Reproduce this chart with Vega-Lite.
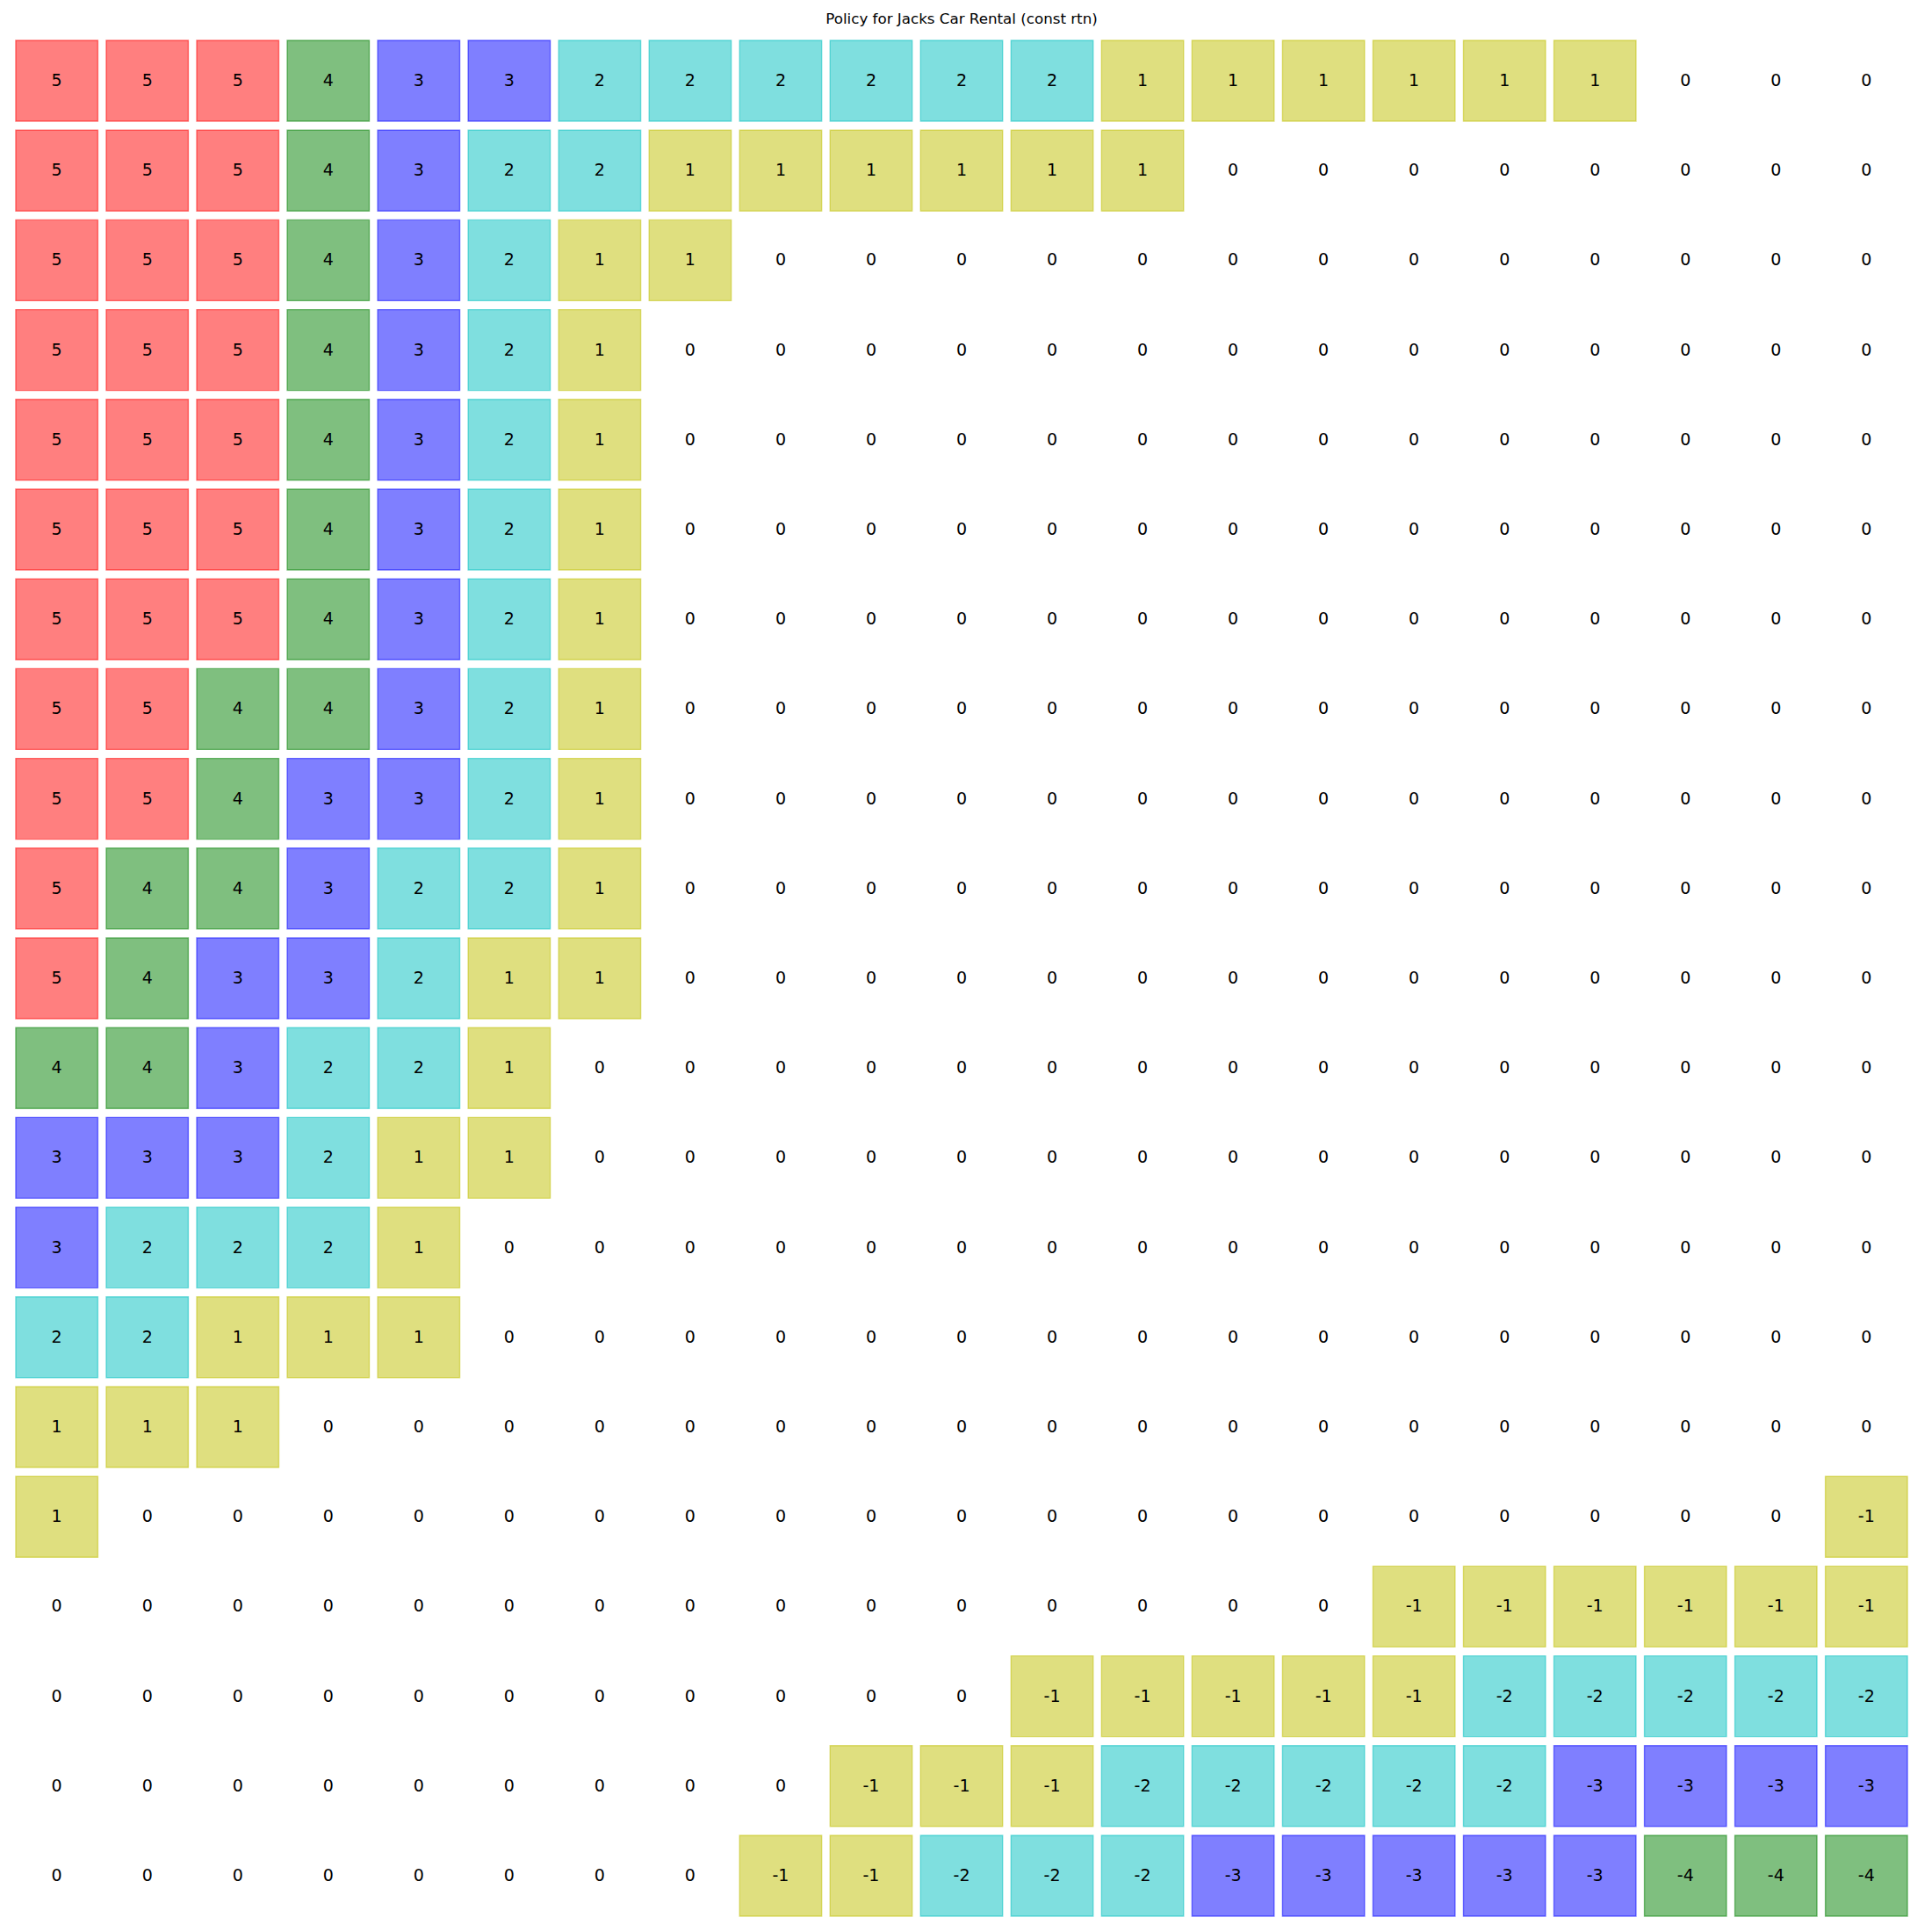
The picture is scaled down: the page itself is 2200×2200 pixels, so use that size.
{
"$schema":"https://vega.github.io/schema/vega-lite/v6.json",
"autosize":{"type":"none"},
"padding":{"left":13,"top":41,"right":23,"bottom":13},
"width":2164,"height":2146,
"background":"white",
"config":{"view":{"stroke":null}},
"title":{"text":"Policy for Jacks Car Rental (const rtn)","font":"DejaVu Sans","fontSize":16.7,"fontWeight":"normal","color":"black","anchor":"middle","offset":10},
"data":{"values":[
{"r":0,"c":0,"v":5},{"r":0,"c":1,"v":5},{"r":0,"c":2,"v":5},{"r":0,"c":3,"v":4},{"r":0,"c":4,"v":3},{"r":0,"c":5,"v":3},{"r":0,"c":6,"v":2},{"r":0,"c":7,"v":2},{"r":0,"c":8,"v":2},{"r":0,"c":9,"v":2},{"r":0,"c":10,"v":2},{"r":0,"c":11,"v":2},{"r":0,"c":12,"v":1},{"r":0,"c":13,"v":1},{"r":0,"c":14,"v":1},{"r":0,"c":15,"v":1},{"r":0,"c":16,"v":1},{"r":0,"c":17,"v":1},{"r":0,"c":18,"v":0},{"r":0,"c":19,"v":0},{"r":0,"c":20,"v":0},
{"r":1,"c":0,"v":5},{"r":1,"c":1,"v":5},{"r":1,"c":2,"v":5},{"r":1,"c":3,"v":4},{"r":1,"c":4,"v":3},{"r":1,"c":5,"v":2},{"r":1,"c":6,"v":2},{"r":1,"c":7,"v":1},{"r":1,"c":8,"v":1},{"r":1,"c":9,"v":1},{"r":1,"c":10,"v":1},{"r":1,"c":11,"v":1},{"r":1,"c":12,"v":1},{"r":1,"c":13,"v":0},{"r":1,"c":14,"v":0},{"r":1,"c":15,"v":0},{"r":1,"c":16,"v":0},{"r":1,"c":17,"v":0},{"r":1,"c":18,"v":0},{"r":1,"c":19,"v":0},{"r":1,"c":20,"v":0},
{"r":2,"c":0,"v":5},{"r":2,"c":1,"v":5},{"r":2,"c":2,"v":5},{"r":2,"c":3,"v":4},{"r":2,"c":4,"v":3},{"r":2,"c":5,"v":2},{"r":2,"c":6,"v":1},{"r":2,"c":7,"v":1},{"r":2,"c":8,"v":0},{"r":2,"c":9,"v":0},{"r":2,"c":10,"v":0},{"r":2,"c":11,"v":0},{"r":2,"c":12,"v":0},{"r":2,"c":13,"v":0},{"r":2,"c":14,"v":0},{"r":2,"c":15,"v":0},{"r":2,"c":16,"v":0},{"r":2,"c":17,"v":0},{"r":2,"c":18,"v":0},{"r":2,"c":19,"v":0},{"r":2,"c":20,"v":0},
{"r":3,"c":0,"v":5},{"r":3,"c":1,"v":5},{"r":3,"c":2,"v":5},{"r":3,"c":3,"v":4},{"r":3,"c":4,"v":3},{"r":3,"c":5,"v":2},{"r":3,"c":6,"v":1},{"r":3,"c":7,"v":0},{"r":3,"c":8,"v":0},{"r":3,"c":9,"v":0},{"r":3,"c":10,"v":0},{"r":3,"c":11,"v":0},{"r":3,"c":12,"v":0},{"r":3,"c":13,"v":0},{"r":3,"c":14,"v":0},{"r":3,"c":15,"v":0},{"r":3,"c":16,"v":0},{"r":3,"c":17,"v":0},{"r":3,"c":18,"v":0},{"r":3,"c":19,"v":0},{"r":3,"c":20,"v":0},
{"r":4,"c":0,"v":5},{"r":4,"c":1,"v":5},{"r":4,"c":2,"v":5},{"r":4,"c":3,"v":4},{"r":4,"c":4,"v":3},{"r":4,"c":5,"v":2},{"r":4,"c":6,"v":1},{"r":4,"c":7,"v":0},{"r":4,"c":8,"v":0},{"r":4,"c":9,"v":0},{"r":4,"c":10,"v":0},{"r":4,"c":11,"v":0},{"r":4,"c":12,"v":0},{"r":4,"c":13,"v":0},{"r":4,"c":14,"v":0},{"r":4,"c":15,"v":0},{"r":4,"c":16,"v":0},{"r":4,"c":17,"v":0},{"r":4,"c":18,"v":0},{"r":4,"c":19,"v":0},{"r":4,"c":20,"v":0},
{"r":5,"c":0,"v":5},{"r":5,"c":1,"v":5},{"r":5,"c":2,"v":5},{"r":5,"c":3,"v":4},{"r":5,"c":4,"v":3},{"r":5,"c":5,"v":2},{"r":5,"c":6,"v":1},{"r":5,"c":7,"v":0},{"r":5,"c":8,"v":0},{"r":5,"c":9,"v":0},{"r":5,"c":10,"v":0},{"r":5,"c":11,"v":0},{"r":5,"c":12,"v":0},{"r":5,"c":13,"v":0},{"r":5,"c":14,"v":0},{"r":5,"c":15,"v":0},{"r":5,"c":16,"v":0},{"r":5,"c":17,"v":0},{"r":5,"c":18,"v":0},{"r":5,"c":19,"v":0},{"r":5,"c":20,"v":0},
{"r":6,"c":0,"v":5},{"r":6,"c":1,"v":5},{"r":6,"c":2,"v":5},{"r":6,"c":3,"v":4},{"r":6,"c":4,"v":3},{"r":6,"c":5,"v":2},{"r":6,"c":6,"v":1},{"r":6,"c":7,"v":0},{"r":6,"c":8,"v":0},{"r":6,"c":9,"v":0},{"r":6,"c":10,"v":0},{"r":6,"c":11,"v":0},{"r":6,"c":12,"v":0},{"r":6,"c":13,"v":0},{"r":6,"c":14,"v":0},{"r":6,"c":15,"v":0},{"r":6,"c":16,"v":0},{"r":6,"c":17,"v":0},{"r":6,"c":18,"v":0},{"r":6,"c":19,"v":0},{"r":6,"c":20,"v":0},
{"r":7,"c":0,"v":5},{"r":7,"c":1,"v":5},{"r":7,"c":2,"v":4},{"r":7,"c":3,"v":4},{"r":7,"c":4,"v":3},{"r":7,"c":5,"v":2},{"r":7,"c":6,"v":1},{"r":7,"c":7,"v":0},{"r":7,"c":8,"v":0},{"r":7,"c":9,"v":0},{"r":7,"c":10,"v":0},{"r":7,"c":11,"v":0},{"r":7,"c":12,"v":0},{"r":7,"c":13,"v":0},{"r":7,"c":14,"v":0},{"r":7,"c":15,"v":0},{"r":7,"c":16,"v":0},{"r":7,"c":17,"v":0},{"r":7,"c":18,"v":0},{"r":7,"c":19,"v":0},{"r":7,"c":20,"v":0},
{"r":8,"c":0,"v":5},{"r":8,"c":1,"v":5},{"r":8,"c":2,"v":4},{"r":8,"c":3,"v":3},{"r":8,"c":4,"v":3},{"r":8,"c":5,"v":2},{"r":8,"c":6,"v":1},{"r":8,"c":7,"v":0},{"r":8,"c":8,"v":0},{"r":8,"c":9,"v":0},{"r":8,"c":10,"v":0},{"r":8,"c":11,"v":0},{"r":8,"c":12,"v":0},{"r":8,"c":13,"v":0},{"r":8,"c":14,"v":0},{"r":8,"c":15,"v":0},{"r":8,"c":16,"v":0},{"r":8,"c":17,"v":0},{"r":8,"c":18,"v":0},{"r":8,"c":19,"v":0},{"r":8,"c":20,"v":0},
{"r":9,"c":0,"v":5},{"r":9,"c":1,"v":4},{"r":9,"c":2,"v":4},{"r":9,"c":3,"v":3},{"r":9,"c":4,"v":2},{"r":9,"c":5,"v":2},{"r":9,"c":6,"v":1},{"r":9,"c":7,"v":0},{"r":9,"c":8,"v":0},{"r":9,"c":9,"v":0},{"r":9,"c":10,"v":0},{"r":9,"c":11,"v":0},{"r":9,"c":12,"v":0},{"r":9,"c":13,"v":0},{"r":9,"c":14,"v":0},{"r":9,"c":15,"v":0},{"r":9,"c":16,"v":0},{"r":9,"c":17,"v":0},{"r":9,"c":18,"v":0},{"r":9,"c":19,"v":0},{"r":9,"c":20,"v":0},
{"r":10,"c":0,"v":5},{"r":10,"c":1,"v":4},{"r":10,"c":2,"v":3},{"r":10,"c":3,"v":3},{"r":10,"c":4,"v":2},{"r":10,"c":5,"v":1},{"r":10,"c":6,"v":1},{"r":10,"c":7,"v":0},{"r":10,"c":8,"v":0},{"r":10,"c":9,"v":0},{"r":10,"c":10,"v":0},{"r":10,"c":11,"v":0},{"r":10,"c":12,"v":0},{"r":10,"c":13,"v":0},{"r":10,"c":14,"v":0},{"r":10,"c":15,"v":0},{"r":10,"c":16,"v":0},{"r":10,"c":17,"v":0},{"r":10,"c":18,"v":0},{"r":10,"c":19,"v":0},{"r":10,"c":20,"v":0},
{"r":11,"c":0,"v":4},{"r":11,"c":1,"v":4},{"r":11,"c":2,"v":3},{"r":11,"c":3,"v":2},{"r":11,"c":4,"v":2},{"r":11,"c":5,"v":1},{"r":11,"c":6,"v":0},{"r":11,"c":7,"v":0},{"r":11,"c":8,"v":0},{"r":11,"c":9,"v":0},{"r":11,"c":10,"v":0},{"r":11,"c":11,"v":0},{"r":11,"c":12,"v":0},{"r":11,"c":13,"v":0},{"r":11,"c":14,"v":0},{"r":11,"c":15,"v":0},{"r":11,"c":16,"v":0},{"r":11,"c":17,"v":0},{"r":11,"c":18,"v":0},{"r":11,"c":19,"v":0},{"r":11,"c":20,"v":0},
{"r":12,"c":0,"v":3},{"r":12,"c":1,"v":3},{"r":12,"c":2,"v":3},{"r":12,"c":3,"v":2},{"r":12,"c":4,"v":1},{"r":12,"c":5,"v":1},{"r":12,"c":6,"v":0},{"r":12,"c":7,"v":0},{"r":12,"c":8,"v":0},{"r":12,"c":9,"v":0},{"r":12,"c":10,"v":0},{"r":12,"c":11,"v":0},{"r":12,"c":12,"v":0},{"r":12,"c":13,"v":0},{"r":12,"c":14,"v":0},{"r":12,"c":15,"v":0},{"r":12,"c":16,"v":0},{"r":12,"c":17,"v":0},{"r":12,"c":18,"v":0},{"r":12,"c":19,"v":0},{"r":12,"c":20,"v":0},
{"r":13,"c":0,"v":3},{"r":13,"c":1,"v":2},{"r":13,"c":2,"v":2},{"r":13,"c":3,"v":2},{"r":13,"c":4,"v":1},{"r":13,"c":5,"v":0},{"r":13,"c":6,"v":0},{"r":13,"c":7,"v":0},{"r":13,"c":8,"v":0},{"r":13,"c":9,"v":0},{"r":13,"c":10,"v":0},{"r":13,"c":11,"v":0},{"r":13,"c":12,"v":0},{"r":13,"c":13,"v":0},{"r":13,"c":14,"v":0},{"r":13,"c":15,"v":0},{"r":13,"c":16,"v":0},{"r":13,"c":17,"v":0},{"r":13,"c":18,"v":0},{"r":13,"c":19,"v":0},{"r":13,"c":20,"v":0},
{"r":14,"c":0,"v":2},{"r":14,"c":1,"v":2},{"r":14,"c":2,"v":1},{"r":14,"c":3,"v":1},{"r":14,"c":4,"v":1},{"r":14,"c":5,"v":0},{"r":14,"c":6,"v":0},{"r":14,"c":7,"v":0},{"r":14,"c":8,"v":0},{"r":14,"c":9,"v":0},{"r":14,"c":10,"v":0},{"r":14,"c":11,"v":0},{"r":14,"c":12,"v":0},{"r":14,"c":13,"v":0},{"r":14,"c":14,"v":0},{"r":14,"c":15,"v":0},{"r":14,"c":16,"v":0},{"r":14,"c":17,"v":0},{"r":14,"c":18,"v":0},{"r":14,"c":19,"v":0},{"r":14,"c":20,"v":0},
{"r":15,"c":0,"v":1},{"r":15,"c":1,"v":1},{"r":15,"c":2,"v":1},{"r":15,"c":3,"v":0},{"r":15,"c":4,"v":0},{"r":15,"c":5,"v":0},{"r":15,"c":6,"v":0},{"r":15,"c":7,"v":0},{"r":15,"c":8,"v":0},{"r":15,"c":9,"v":0},{"r":15,"c":10,"v":0},{"r":15,"c":11,"v":0},{"r":15,"c":12,"v":0},{"r":15,"c":13,"v":0},{"r":15,"c":14,"v":0},{"r":15,"c":15,"v":0},{"r":15,"c":16,"v":0},{"r":15,"c":17,"v":0},{"r":15,"c":18,"v":0},{"r":15,"c":19,"v":0},{"r":15,"c":20,"v":0},
{"r":16,"c":0,"v":1},{"r":16,"c":1,"v":0},{"r":16,"c":2,"v":0},{"r":16,"c":3,"v":0},{"r":16,"c":4,"v":0},{"r":16,"c":5,"v":0},{"r":16,"c":6,"v":0},{"r":16,"c":7,"v":0},{"r":16,"c":8,"v":0},{"r":16,"c":9,"v":0},{"r":16,"c":10,"v":0},{"r":16,"c":11,"v":0},{"r":16,"c":12,"v":0},{"r":16,"c":13,"v":0},{"r":16,"c":14,"v":0},{"r":16,"c":15,"v":0},{"r":16,"c":16,"v":0},{"r":16,"c":17,"v":0},{"r":16,"c":18,"v":0},{"r":16,"c":19,"v":0},{"r":16,"c":20,"v":-1},
{"r":17,"c":0,"v":0},{"r":17,"c":1,"v":0},{"r":17,"c":2,"v":0},{"r":17,"c":3,"v":0},{"r":17,"c":4,"v":0},{"r":17,"c":5,"v":0},{"r":17,"c":6,"v":0},{"r":17,"c":7,"v":0},{"r":17,"c":8,"v":0},{"r":17,"c":9,"v":0},{"r":17,"c":10,"v":0},{"r":17,"c":11,"v":0},{"r":17,"c":12,"v":0},{"r":17,"c":13,"v":0},{"r":17,"c":14,"v":0},{"r":17,"c":15,"v":-1},{"r":17,"c":16,"v":-1},{"r":17,"c":17,"v":-1},{"r":17,"c":18,"v":-1},{"r":17,"c":19,"v":-1},{"r":17,"c":20,"v":-1},
{"r":18,"c":0,"v":0},{"r":18,"c":1,"v":0},{"r":18,"c":2,"v":0},{"r":18,"c":3,"v":0},{"r":18,"c":4,"v":0},{"r":18,"c":5,"v":0},{"r":18,"c":6,"v":0},{"r":18,"c":7,"v":0},{"r":18,"c":8,"v":0},{"r":18,"c":9,"v":0},{"r":18,"c":10,"v":0},{"r":18,"c":11,"v":-1},{"r":18,"c":12,"v":-1},{"r":18,"c":13,"v":-1},{"r":18,"c":14,"v":-1},{"r":18,"c":15,"v":-1},{"r":18,"c":16,"v":-2},{"r":18,"c":17,"v":-2},{"r":18,"c":18,"v":-2},{"r":18,"c":19,"v":-2},{"r":18,"c":20,"v":-2},
{"r":19,"c":0,"v":0},{"r":19,"c":1,"v":0},{"r":19,"c":2,"v":0},{"r":19,"c":3,"v":0},{"r":19,"c":4,"v":0},{"r":19,"c":5,"v":0},{"r":19,"c":6,"v":0},{"r":19,"c":7,"v":0},{"r":19,"c":8,"v":0},{"r":19,"c":9,"v":-1},{"r":19,"c":10,"v":-1},{"r":19,"c":11,"v":-1},{"r":19,"c":12,"v":-2},{"r":19,"c":13,"v":-2},{"r":19,"c":14,"v":-2},{"r":19,"c":15,"v":-2},{"r":19,"c":16,"v":-2},{"r":19,"c":17,"v":-3},{"r":19,"c":18,"v":-3},{"r":19,"c":19,"v":-3},{"r":19,"c":20,"v":-3},
{"r":20,"c":0,"v":0},{"r":20,"c":1,"v":0},{"r":20,"c":2,"v":0},{"r":20,"c":3,"v":0},{"r":20,"c":4,"v":0},{"r":20,"c":5,"v":0},{"r":20,"c":6,"v":0},{"r":20,"c":7,"v":0},{"r":20,"c":8,"v":-1},{"r":20,"c":9,"v":-1},{"r":20,"c":10,"v":-2},{"r":20,"c":11,"v":-2},{"r":20,"c":12,"v":-2},{"r":20,"c":13,"v":-3},{"r":20,"c":14,"v":-3},{"r":20,"c":15,"v":-3},{"r":20,"c":16,"v":-3},{"r":20,"c":17,"v":-3},{"r":20,"c":18,"v":-4},{"r":20,"c":19,"v":-4},{"r":20,"c":20,"v":-4}
]},
"encoding":{
"x":{"field":"c","type":"ordinal","axis":null,"scale":{"paddingInner":0.093,"paddingOuter":0.048}},
"y":{"field":"r","type":"ordinal","axis":null,"scale":{"paddingInner":0.1,"paddingOuter":0.049}}
},
"layer":[
{"transform":[{"filter":"datum.v != 0"}],
"mark":{"type":"rect","fillOpacity":0.5,"strokeOpacity":0.5,"strokeWidth":1.4},
"encoding":{
"fill":{"field":"v","type":"ordinal","legend":null,"scale":{"domain":[-4,-3,-2,-1,1,2,3,4,5],"range":["#008000","#0000ff","#00bfbf","#bfbf00","#bfbf00","#00bfbf","#0000ff","#008000","#ff0000"]}},
"stroke":{"field":"v","type":"ordinal","legend":null,"scale":{"domain":[-4,-3,-2,-1,1,2,3,4,5],"range":["#008000","#0000ff","#00bfbf","#bfbf00","#bfbf00","#00bfbf","#0000ff","#008000","#ff0000"]}}
}},
{"mark":{"type":"text","font":"DejaVu Sans","fontSize":19,"color":"black","align":"center","baseline":"middle"},
"encoding":{"text":{"field":"v","type":"nominal"}}}
]
}
